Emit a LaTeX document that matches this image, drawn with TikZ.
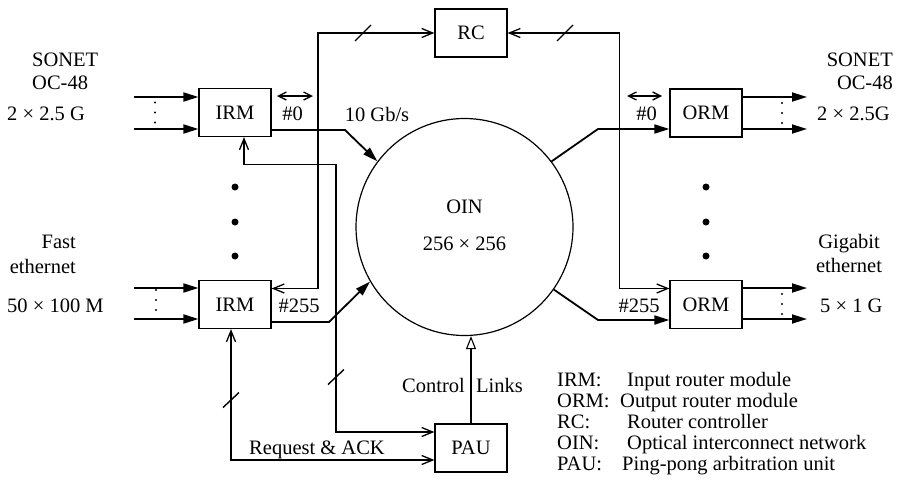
\documentclass[tikz,border=0pt]{standalone}
\usepackage{fontspec}
\setmainfont{Liberation Serif}
\usetikzlibrary{arrows.meta}
\begin{document}
\begin{tikzpicture}[x=1pt,y=-1pt,
  every node/.style={font=\fontsize{20.5}{21}\selectfont, inner sep=0pt},
  box/.style={draw,line width=1.2pt,minimum width=72pt,minimum height=48pt},
  dat/.style={line width=1.8pt,-{Triangle[length=15pt,width=9pt]}},
  sig/.style={line width=1.8pt,
    {Straight Barb[length=11pt,width=9pt,line width=1.3pt]}-{Straight Barb[length=11pt,width=9pt,line width=1.3pt]}},
  dbl/.style={line width=1.5pt,
    {Straight Barb[length=8pt,width=8pt,line width=1.3pt]}-{Straight Barb[length=8pt,width=8pt,line width=1.3pt]}},
  slash/.style={line width=1.4pt},
  bigdot/.style={fill,circle,minimum size=7pt},
  smalldot/.style={fill,circle,minimum size=2.4pt},
  lbl/.style={anchor=base},
]
\useasboundingbox (0,0) rectangle (910,485);

% modules
\node[box] (irm0)   at (235,112.5) {IRM};
\node[box] (irm255) at (235,304.5) {IRM};
\node[box] (rc)     at (471,33)    {RC};
\node[box] (orm0)   at (706,113)   {ORM};
\node[box] (orm255) at (706,304.5) {ORM};
\node[box] (pau)    at (471,448)   {PAU};
\node[circle,draw,line width=1.2pt,minimum size=217pt] (oin) at (464.5,227) {};
\node[lbl] (oinname) at (464.5,213) {OIN};
\node[lbl] (oinsize) at (464.5,250) {256 × 256};

% line ends and bends
\coordinate (inA) at (134,97);   \coordinate (inB) at (134,129);
\coordinate (inC) at (134,288);  \coordinate (inD) at (134,319);
\coordinate (outA) at (807,97);  \coordinate (outB) at (807,129);
\coordinate (outC) at (807,288); \coordinate (outD) at (807,319);
\coordinate (bendA) at (345,130);
\coordinate (bendB) at (329,322);
\coordinate (bendC) at (598,129);
\coordinate (bendD) at (598,320);
\coordinate (fbturn) at (336,164.5);
\coordinate (dblLa) at (277,96);  \coordinate (dblLb) at (313,96);
\coordinate (dblRa) at (627,96);  \coordinate (dblRb) at (662,96);

% external ports
\draw[dat] (inA) -- (irm0.west |- inA);
\draw[dat] (inB) -- (irm0.west |- inB);
\draw[dat] (inC) -- (irm255.west |- inC);
\draw[dat] (inD) -- (irm255.west |- inD);
\draw[dat] (orm0.east |- outA) -- (outA);
\draw[dat] (orm0.east |- outB) -- (outB);
\draw[dat] (orm255.east |- outC) -- (outC);
\draw[dat] (orm255.east |- outD) -- (outD);

% data paths through the interconnect
\draw[dat] ([yshift=-17.5pt]irm0.east) -- (bendA) -- (oin.143.6);
\draw[dat] ([yshift=-17.5pt]irm255.east) -- (bendB) -- (oin.210.2);
\draw[dat] (oin.37.8) -- (bendC) -- ([yshift=-16pt]orm0.west);
\draw[dat] (oin.-35.8) -- (bendD) -- ([yshift=-15.5pt]orm255.west);

% router controller links
\draw[sig] ([yshift=16pt]irm255.east) -- ++(46,0) |- (rc.west);
\draw[sig] ([yshift=16pt]orm255.west) -- ++(-50,0) |- (rc.east);

% arbitration links
\draw[sig] ([xshift=9pt]irm0.south) |- (fbturn) |- ([yshift=16pt]pau.west);
\draw[sig] ([xshift=-4pt]irm255.south) |- ([yshift=-12pt]pau.west);

% control links
\draw[line width=1.1pt,-{Triangle[open,length=13pt,width=10pt,line width=1.1pt]}]
  (pau.north) -- (pau.north |- oin.south);

% bus markers
\draw[slash] (363,33) ++(-8,8) -- ++(16,-16);
\draw[slash] (565,33) ++(-8,8) -- ++(16,-16);
\draw[slash] (336,377) ++(-8,7.5) -- ++(16,-15);
\draw[slash] (231,400) ++(-8,7.5) -- ++(16,-15);

% port pairs
\draw[dbl] (dblLa) -- (dblLb);
\draw[dbl] (dblRa) -- (dblRb);

% ellipses between modules
\foreach \yy in {187,222,256} {
  \node[bigdot] at (235,\yy) {};
  \node[bigdot] at (706,\yy) {};
}
\foreach \xx/\yy in {155/112.5,156/300,782/113,782/304} {
  \node[smalldot] at (\xx,\yy-10) {};
  \node[smalldot] at (\xx,\yy) {};
  \node[smalldot] at (\xx,\yy+10) {};
}

% port labels
\node[anchor=base west] (sonL) at (32,66) {SONET};
\node[anchor=base west] (ocL)  at (32,89) {OC-48};
\node[anchor=base west] (rateL) at (7,120) {2 × 2.5 G};
\node[anchor=base east] (fast) at (76,248) {Fast};
\node[anchor=base east] (ethL) at (76,273) {ethernet};
\node[anchor=base west] (rateL2) at (7,312) {50 × 100 M};
\node[anchor=base east] (sonR) at (893,66) {SONET};
\node[anchor=base east] (ocR)  at (893,89) {OC-48};
\node[anchor=base west] (rateR) at (817,120) {2 × 2.5G};
\node[lbl] (gig)  at (849,248) {Gigabit};
\node[lbl] (ethR) at (849,272) {ethernet};
\node[anchor=base west] (rateR2) at (820,312) {5 × 1 G};

\node[lbl] (p0L)   at (292.5,120) {\#0};
\node[lbl] (p255L) at (299,312) {\#255};
\node[lbl] (p0R)   at (646.5,120) {\#0};
\node[lbl] (p255R) at (639,312) {\#255};
\node[lbl] (speed) at (377,121) {10 Gb/s};
\node[anchor=base east] (ctlA) at (465,392) {Control};
\node[anchor=base west] (ctlB) at (476,392) {Links};
\node[lbl] (reqack) at (317,454) {Request \& ACK};

% legend
\foreach \k/\d/\dx [count=\i] in {IRM:/Input router module/627,
                                  ORM:/Output router module/620,
                                  RC:/Router controller/627,
                                  OIN:/Optical interconnect network/627,
                                  PAU:/Ping-pong arbitration unit/622} {
  \node[anchor=base west] (key\i) at (557,365+21*\i) {\k};
  \node[anchor=base west] (desc\i) at (\dx,365+21*\i) {\d};
}
\end{tikzpicture}
\end{document}
